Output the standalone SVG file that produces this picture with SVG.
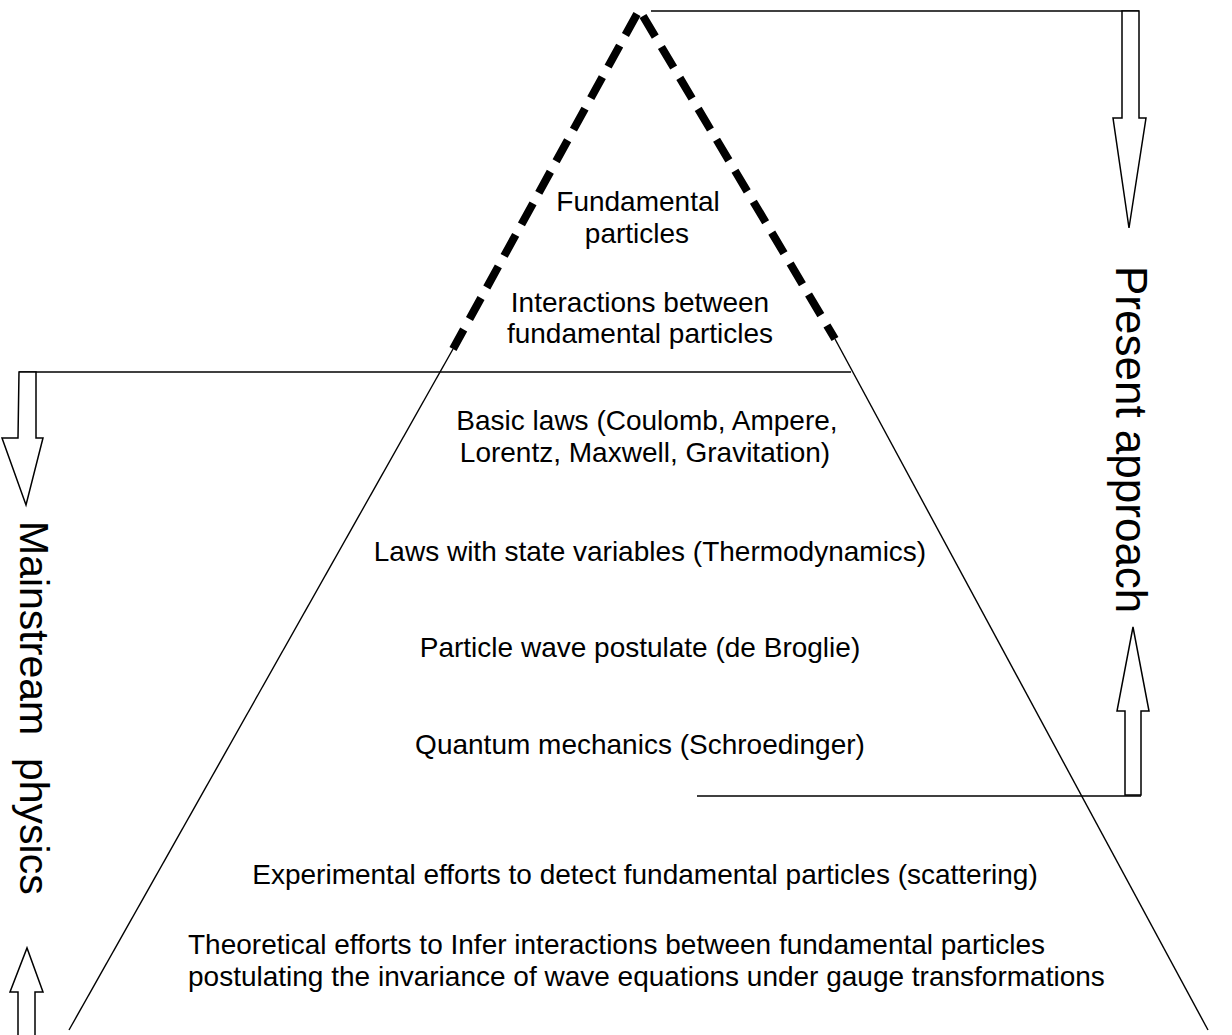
<svg xmlns="http://www.w3.org/2000/svg" width="1232" height="1035" viewBox="0 0 1232 1035">
<style>
.t{font-family:"Liberation Sans",Arial,sans-serif;font-size:28px;fill:#000}
.c{text-anchor:middle}
.big{font-family:"Liberation Sans",Arial,sans-serif;fill:#000;white-space:pre}
.ln{stroke:#000;stroke-width:1.4;fill:none}
.dash{stroke:#000;stroke-width:8;fill:none;stroke-dasharray:24 12}
.arr{stroke:#000;stroke-width:1.5;fill:#fff;stroke-linejoin:miter}
</style>
<rect width="1232" height="1035" fill="#fff"/>
<g id="connectors">
<line class="dash" x1="637" y1="14" x2="453" y2="349"/>
<line class="dash" x1="643" y1="16" x2="835" y2="339"/>
<line class="ln" x1="453" y1="349" x2="69" y2="1030"/>
<line class="ln" x1="835" y1="339" x2="1208" y2="1030"/>
<line class="ln" x1="651" y1="11" x2="1139" y2="11"/>
<line class="ln" x1="19" y1="372" x2="851" y2="372"/>
<line class="ln" x1="697" y1="796" x2="1141" y2="796"/>
<polygon class="arr" points="1122,11 1139,11 1139,118 1146,118 1129,228 1113,118 1122,118"/>
<polygon class="arr" points="1125,795 1141,795 1141,711 1149,711 1133,627 1117,711 1125,711"/>
<polygon class="arr" points="19,372 36,372 36,438 43,438 26,505 2,438 18,438"/>
<polygon class="arr" points="18,1040 18,992 10,992 27,948 43,992 35,992 35,1040"/>
</g>
<g id="node-fundamental-particles"><text class="t c" x="638" y="211">Fundamental</text><text class="t c" x="637" y="243">particles</text></g>
<g id="node-interactions"><text class="t c" x="640" y="312">Interactions between</text><text class="t c" x="640" y="343">fundamental particles</text></g>
<g id="node-basic-laws"><text class="t c" x="647" y="430">Basic laws (Coulomb, Ampere,</text><text class="t c" x="645" y="462">Lorentz, Maxwell, Gravitation)</text></g>
<g id="node-state-laws"><text class="t c" x="650" y="561">Laws with state variables (Thermodynamics)</text></g>
<g id="node-de-broglie"><text class="t c" x="640" y="657">Particle wave postulate (de Broglie)</text></g>
<g id="node-quantum"><text class="t c" x="640" y="754">Quantum mechanics (Schroedinger)</text></g>
<g id="node-experimental"><text class="t c" x="645" y="884">Experimental efforts to detect fundamental particles (scattering)</text></g>
<g id="node-theoretical"><text class="t" x="188" y="954">Theoretical efforts to Infer interactions between fundamental particles</text><text class="t" x="188" y="986">postulating the invariance of wave equations under gauge transformations</text></g>
<g id="label-mainstream"><text class="big" font-size="41" transform="translate(20,521) rotate(90)">Mainstream  physics</text></g>
<g id="label-present"><text class="big" font-size="44" transform="translate(1116,266) rotate(90)">Present approach</text></g>
</svg>
